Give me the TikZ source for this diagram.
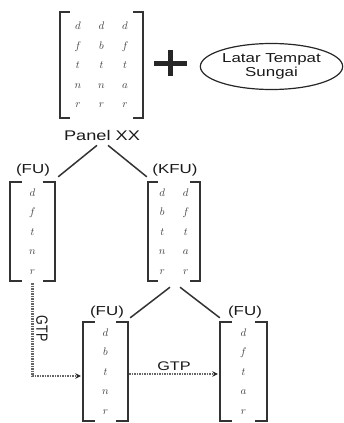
\documentclass[tikz,border=0pt]{standalone}
\usepackage{fontspec}
\setmainfont{Liberation Sans}
\usetikzlibrary{arrows.meta,shapes.geometric}
\renewcommand\arraystretch{1.5}
\setlength\arraycolsep{8.5pt}
\newcommand\wtext[1]{\scalebox{1.3}[1]{#1}}
\newcommand\brk[2]{%
  \draw[brkline] ([xshift=#2]#1.north west) -- (#1.north west) -- (#1.south west) -- ([xshift=#2]#1.south west);
  \draw[brkline] ([xshift=-#2]#1.north east) -- (#1.north east) -- (#1.south east) -- ([xshift=-#2]#1.south east);}
\tikzset{
  lbl/.style={font=\fontsize{13}{14}\selectfont, text=black!90, inner sep=1pt},
  mat/.style={inner sep=0pt, text=black!75, font=\fontsize{11}{13}\selectfont},
  brkline/.style={draw=black!80, line width=1.7pt},
  conn/.style={draw=black!80, line width=1.5pt},
  gtp/.style={draw=black!60, line width=2.2pt, dash pattern=on 1.4pt off 1.1pt,
    -{Stealth[length=5.5pt,width=5.5pt,black!85]}},
}
\begin{document}
\begin{tikzpicture}[x=1pt,y=-1pt]
\useasboundingbox (0,0) rectangle (343,423);
% top matrix
\node[mat, minimum width=83pt, minimum height=106pt] (top) at (101.5,65)
  {$\begin{array}{ccc} d&d&d\\ f&b&f\\ t&t&t\\ n&n&a\\ r&r&r \end{array}$};
\brk{top}{10pt}
% plus sign
\draw[line width=5pt, black!85] (154,63) -- (187,63);
\draw[line width=5pt, black!85] (170.5,50) -- (170.5,76);
% ellipse
\node[draw=black!85, ellipse, line width=1.2pt, minimum width=138pt, minimum height=46pt,
  lbl, align=center] (bg) at (271.5,66.5) {\wtext{Latar Tempat}\\ \wtext{Sungai}};
% Panel XX
\node[lbl, font=\fontsize{14}{16}\selectfont, inner ysep=3pt] (px) at (102,135) {\wtext{Panel XX}};
% second level
\node[mat, minimum width=45pt, minimum height=99pt] (fu) at (32.5,231.5)
  {$\begin{array}{c} d\\ f\\ t\\ n\\ r \end{array}$};
\brk{fu}{12pt}
\node[mat, minimum width=52pt, minimum height=99pt] (kfu) at (174,231.5)
  {$\begin{array}{cc} d&d\\ b&f\\ t&t\\ n&a\\ r&r \end{array}$};
\brk{kfu}{10pt}
\node[lbl] (fuL) at (33,170) {\wtext{(FU)}};
\node[lbl] (kfuL) at (175,170) {\wtext{(KFU)}};
% third level
\node[mat, minimum width=45pt, minimum height=99pt] (ll) at (105.5,371.5)
  {$\begin{array}{c} d\\ b\\ t\\ n\\ r \end{array}$};
\brk{ll}{12pt}
\node[mat, minimum width=47pt, minimum height=99pt] (lr) at (243.5,371.5)
  {$\begin{array}{c} d\\ f\\ t\\ a\\ r \end{array}$};
\brk{lr}{12pt}
\node[lbl] (llL) at (107,312) {\wtext{(FU)}};
\node[lbl] (lrL) at (245,312) {\wtext{(FU)}};
% connectors
\draw[conn] ([xshift=-5pt,yshift=-2pt]px.south) -- ([shift={(3pt,5pt)}]fu.north east);
\draw[conn] ([xshift=6pt,yshift=-2pt]px.south) -- ([shift={(-1pt,5pt)}]kfu.north west);
\draw[conn] ([xshift=-4pt,yshift=-6pt]kfu.south) -- ([shift={(2pt,4pt)}]ll.north east);
\draw[conn] ([xshift=6pt,yshift=-6pt]kfu.south) -- ([shift={(0pt,4pt)}]lr.north west);
% GTP arrows
\draw[gtp, shorten <=2pt, shorten >=2pt] (fu.south) |-
  node[pos=0.25, right=1.5pt, lbl, font=\fontsize{12.5}{14}\selectfont] (gtp1) {\scalebox{1.3}[1]{\rotatebox{-90}{GTP}}}
  ([yshift=-4.5pt]ll.west);
\draw[gtp, shorten <=1pt, shorten >=2pt] ([yshift=-2.5pt]ll.east) --
  node[above=1pt, lbl, font=\fontsize{12.5}{14}\selectfont] (gtp2) {\wtext{GTP}}
  ([yshift=-2.5pt]lr.west);
\end{tikzpicture}
\end{document}
